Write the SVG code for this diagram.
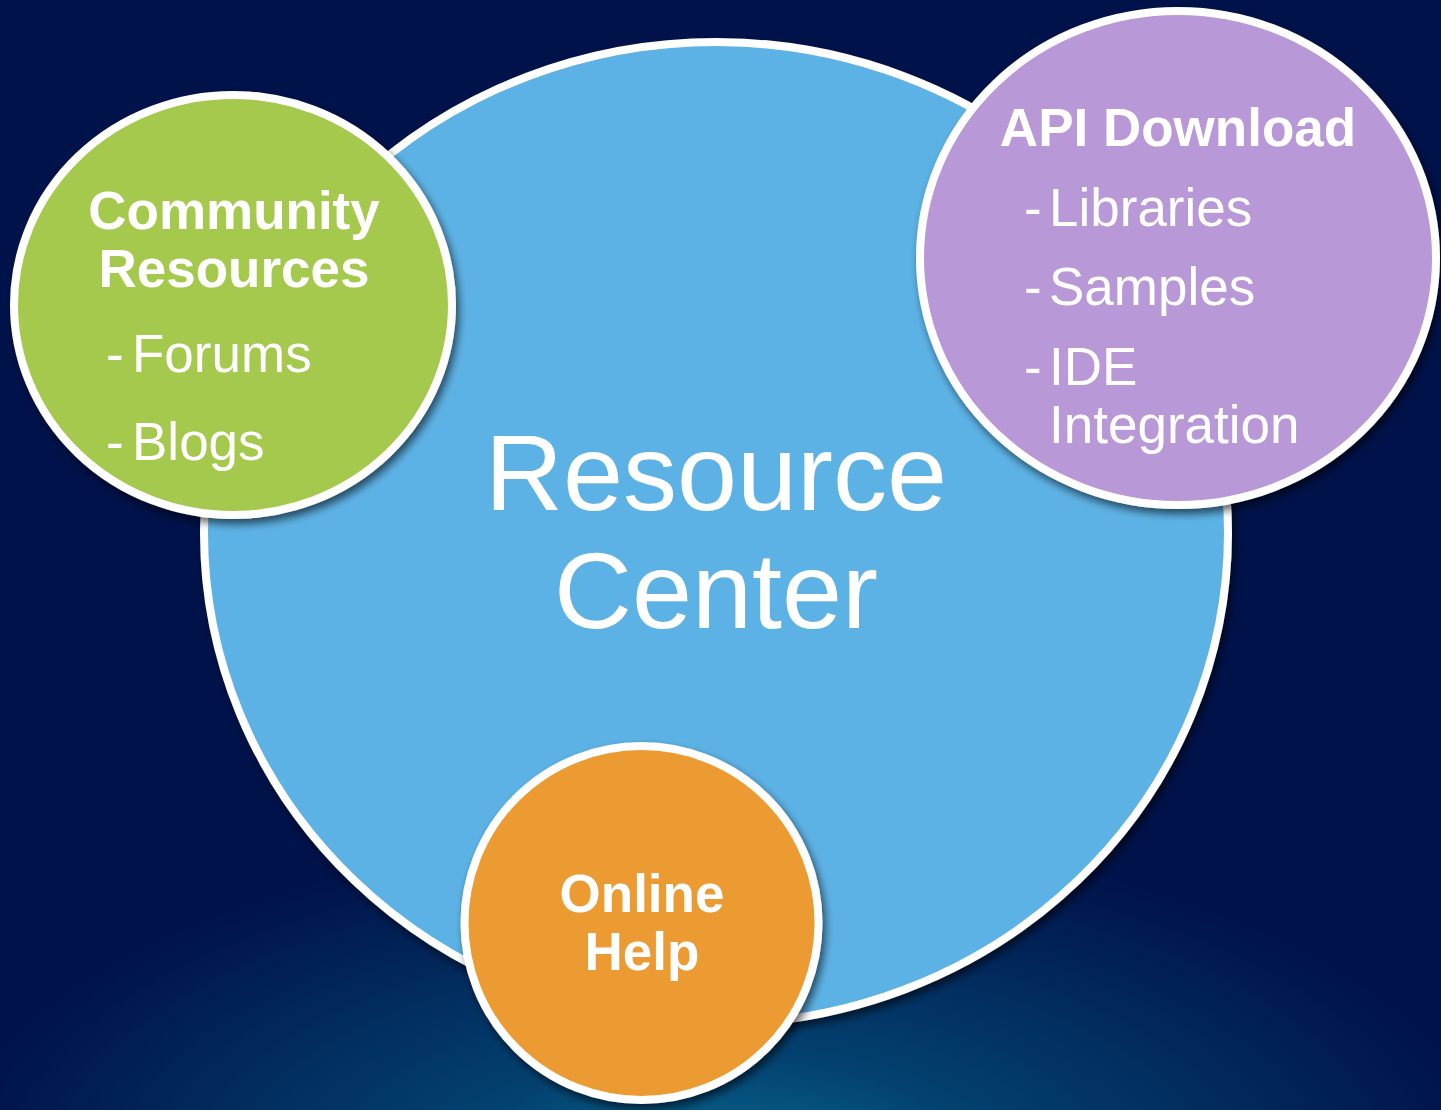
<svg xmlns="http://www.w3.org/2000/svg" width="1441" height="1110" viewBox="0 0 1441 1110">
<defs>
<radialGradient id="bg" cx="720" cy="1180" r="780" gradientUnits="userSpaceOnUse" gradientTransform="translate(720 1180) scale(1 0.45) translate(-720 -1180)">
<stop offset="0" stop-color="#0a6e96"/>
<stop offset="0.35" stop-color="#034270"/>
<stop offset="1" stop-color="#00124a"/>
</radialGradient>
<filter id="sh" x="-10%" y="-10%" width="120%" height="120%">
<feGaussianBlur in="SourceAlpha" stdDeviation="4"/>
<feOffset dx="3" dy="5" result="b"/>
<feComponentTransfer><feFuncA type="linear" slope="0.6"/></feComponentTransfer>
<feMerge><feMergeNode/><feMergeNode in="SourceGraphic"/></feMerge>
</filter>
<style>
.c{stroke:#fff;stroke-width:8;filter:url(#sh)}
.t{fill:#fff;font-family:"Liberation Sans",Arial,sans-serif}
.b{font-weight:bold;font-size:53px}
.r{font-size:53px}
</style>
</defs>
<rect width="1441" height="1110" fill="#00124a"/>
<rect width="1441" height="1110" fill="url(#bg)"/>
<g id="resource-center">
<ellipse class="c" cx="716" cy="533" rx="512" ry="491" fill="#5db2e5"/>
<text class="t" x="716" y="510" font-size="108" text-anchor="middle">Resource</text>
<text class="t" x="716" y="628" font-size="108" text-anchor="middle">Center</text>
</g>
<g id="community">
<ellipse class="c" cx="233" cy="305" rx="219" ry="210" fill="#a5c94e"/>
<text class="t b" x="234" y="229" text-anchor="middle">Community</text>
<text class="t b" x="234" y="287" text-anchor="middle">Resources</text>
<text class="t r" x="106" y="372">-</text><text class="t r" x="132" y="372">Forums</text>
<text class="t r" x="106" y="460">-</text><text class="t r" x="132" y="460">Blogs</text>
</g>
<g id="api">
<ellipse class="c" cx="1178" cy="258" rx="258" ry="247" fill="#b898d6"/>
<text class="t b" x="1178" y="146" text-anchor="middle">API Download</text>
<text class="t r" x="1024" y="226">-</text><text class="t r" x="1049" y="226">Libraries</text>
<text class="t r" x="1024" y="305">-</text><text class="t r" x="1049" y="305">Samples</text>
<text class="t r" x="1024" y="385">-</text><text class="t r" x="1049" y="385">IDE</text>
<text class="t r" x="1049" y="443">Integration</text>
</g>
<g id="online-help">
<circle class="c" cx="641.5" cy="923" r="177" fill="#ec9a30"/>
<text class="t b" x="642" y="912" text-anchor="middle">Online</text>
<text class="t b" x="642" y="970" text-anchor="middle">Help</text>
</g>
<g id="connectors"/>
</svg>
